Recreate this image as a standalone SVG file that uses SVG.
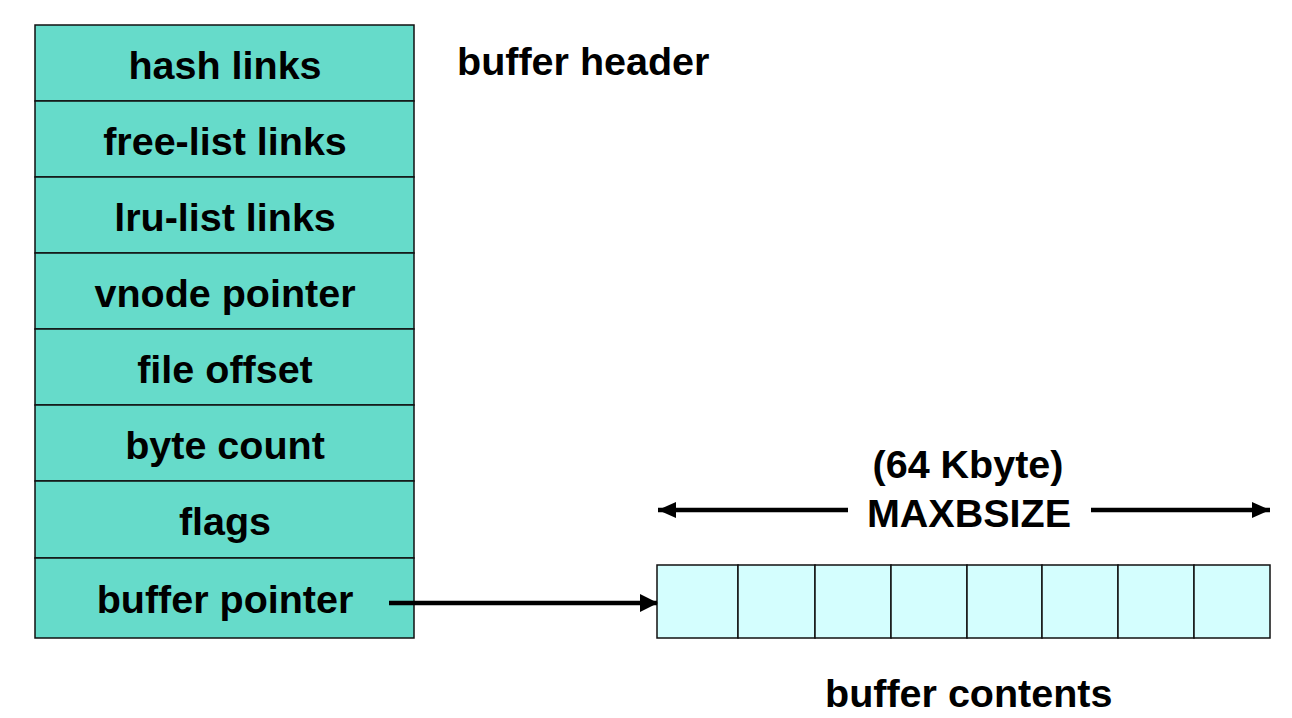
<svg xmlns="http://www.w3.org/2000/svg" width="1292" height="718" viewBox="0 0 1292 718">
<style>
.row{fill:#66dbca;stroke:#111;stroke-width:1.5}
.cell{fill:#d4fefe;stroke:#111;stroke-width:1.5}
.t{font-family:"Liberation Sans",Arial,sans-serif;font-weight:bold;font-size:39.5px;fill:#000}
.c{text-anchor:middle}
.ln{stroke:#000;stroke-width:4.5;fill:none}
</style>
<defs>
<marker id="ah" markerWidth="18" markerHeight="18" refX="17" refY="9" orient="auto" markerUnits="userSpaceOnUse">
<path d="M0,0 L18,9 L0,18 Z" fill="#000"/>
</marker>
<marker id="ahs" markerWidth="18" markerHeight="16" refX="18" refY="8" orient="auto-start-reverse" markerUnits="userSpaceOnUse">
<path d="M0,0 L18,8 L0,16 Z" fill="#000"/>
</marker>
</defs>
<g id="header">
<g id="row-hash"><rect class="row" x="35" y="25" width="379" height="76"/><text class="t c" x="225" y="79">hash links</text></g>
<g id="row-free"><rect class="row" x="35" y="101" width="379" height="76"/><text class="t c" x="225" y="155">free-list links</text></g>
<g id="row-lru"><rect class="row" x="35" y="177" width="379" height="76"/><text class="t c" x="225" y="231">lru-list links</text></g>
<g id="row-vnode"><rect class="row" x="35" y="253" width="379" height="76"/><text class="t c" x="225" y="307">vnode pointer</text></g>
<g id="row-offset"><rect class="row" x="35" y="329" width="379" height="76"/><text class="t c" x="225" y="383">file offset</text></g>
<g id="row-count"><rect class="row" x="35" y="405" width="379" height="76"/><text class="t c" x="225" y="459">byte count</text></g>
<g id="row-flags"><rect class="row" x="35" y="481" width="379" height="77"/><text class="t c" x="225" y="535">flags</text></g>
<g id="row-bufptr"><rect class="row" x="35" y="558" width="379" height="80"/><text class="t c" x="225" y="613">buffer pointer</text></g>
</g>
<g id="label-header"><text class="t" x="457" y="75">buffer header</text></g>
<g id="contents">
<rect class="cell" x="657" y="565" width="81" height="73"/>
<rect class="cell" x="738" y="565" width="77" height="73"/>
<rect class="cell" x="815" y="565" width="76" height="73"/>
<rect class="cell" x="891" y="565" width="76" height="73"/>
<rect class="cell" x="967" y="565" width="75" height="73"/>
<rect class="cell" x="1042" y="565" width="76" height="73"/>
<rect class="cell" x="1118" y="565" width="76" height="73"/>
<rect class="cell" x="1194" y="565" width="76" height="73"/>
</g>
<g id="label-size">
<text class="t c" x="968" y="478">(64 Kbyte)</text>
<text class="t c" x="969" y="527">MAXBSIZE</text>
</g>
<g id="label-contents"><text class="t" x="825" y="707">buffer contents</text></g>
<g id="connectors">
<line class="ln" x1="389" y1="603" x2="657" y2="603" marker-end="url(#ah)"/>
<line class="ln" x1="658" y1="510" x2="848" y2="510" marker-start="url(#ahs)"/>
<line class="ln" x1="1091" y1="510" x2="1270" y2="510" marker-end="url(#ahs)"/>
</g>
</svg>
